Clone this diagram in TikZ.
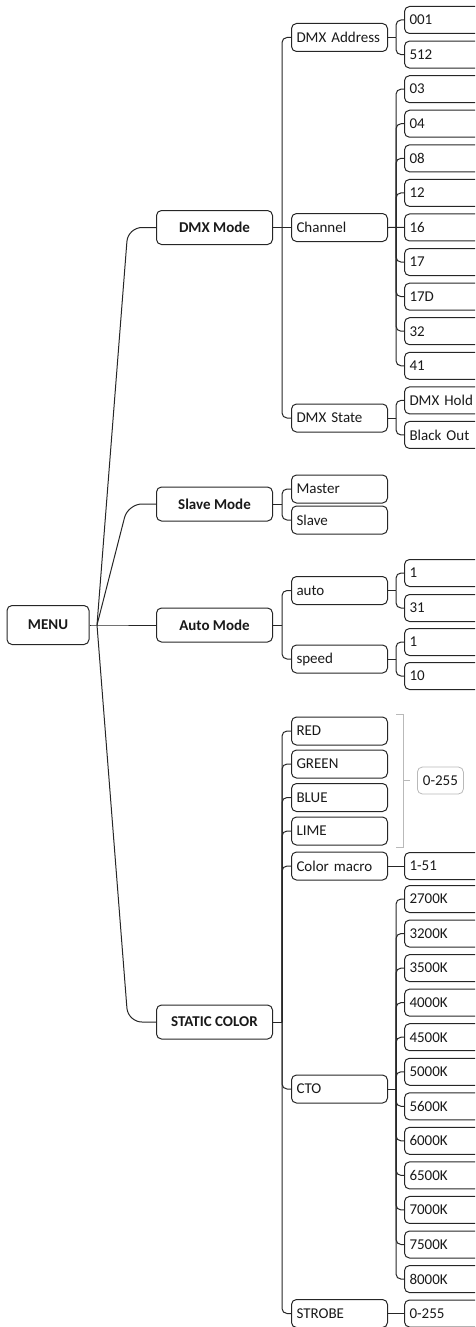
\documentclass[tikz,border=0pt]{standalone}
\usepackage{fontspec}
\setmainfont{Carlito}
\usepackage{tikz}

\tikzset{
  box/.style={draw=black!85, rounded corners=5pt, line width=1pt, text=black!90,
    font=\fontsize{15}{18}\selectfont},
  rootbox/.style={box, minimum width=82pt, minimum height=39pt,
    font=\fontsize{15}{18}\selectfont\bfseries},
  modebox/.style={box, minimum width=116pt, minimum height=34pt,
    font=\fontsize{15}{18}\selectfont\bfseries},
  itembox/.style={box, anchor=west, text width=86pt, inner xsep=5pt, align=left,
    minimum height=28pt},
  valbox/.style={box, anchor=west, text width=90pt, inner xsep=5pt, align=left,
    minimum height=27pt},
  link/.style={draw=black!85, line width=1pt, rounded corners=5pt},
  bracket/.style={draw=gray!55, line width=0.8pt},
}

\begin{document}
\begin{tikzpicture}[x=1pt, y=-1pt]
  % Page size and cut at the right edge
  \useasboundingbox (0,0) rectangle (475,1327);
  \clip (0,0) rectangle (475,1327);

  % Junction columns
  \coordinate (bend) at (128,0);
  \coordinate (jb) at (282,0);
  \coordinate (jc) at (396,0);

  % Root and modes
  \node[rootbox] (menu) at (48,625) {MENU};
  \node[modebox] (dmx) at (214.5,227.5) {DMX Mode};
  \node[modebox] (slave) at (214.5,504) {Slave Mode};
  \node[modebox] (auto) at (214.5,625) {Auto Mode};
  \node[modebox] (static) at (214.5,1022) {STATIC COLOR};

  % Second level
  \node[itembox] (addr) at (291,37.5) {DMX Address};
  \node[itembox] (chan) at (291,227.5) {Channel};
  \node[itembox] (state) at (291,418) {DMX State};
  \node[itembox] (master) at (291,489) {Master};
  \node[itembox] (slv) at (291,520) {Slave};
  \node[itembox] (autoi) at (291,590.5) {auto};
  \node[itembox] (speed) at (291,659) {speed};
  \node[itembox] (red) at (291,731) {RED};
  \node[itembox] (green) at (291,764) {GREEN};
  \node[itembox] (blue) at (291,797.5) {BLUE};
  \node[itembox] (lime) at (291,831) {LIME};
  \node[itembox] (macro) at (291,866) {Color macro};
  \node[itembox] (cto) at (291,1089) {CTO};
  \node[itembox] (strobe) at (291,1313.5) {STROBE};

  % Values
  \foreach \t [count=\i] in {001,512,03,04,08,12,16,17,17D,32,41,DMX Hold,Black Out}
    \node[valbox] (d\i) at (404,{20+34.58*(\i-1)}) {\t};
  \node[valbox] (a1) at (404,573) {1};
  \node[valbox] (a2) at (404,608) {31};
  \node[valbox] (s1) at (404,642) {1};
  \node[valbox] (s2) at (404,676) {10};
  \node[valbox] (cm) at (404,866) {1-51};
  \foreach \t [count=\i] in {2700K,3200K,3500K,4000K,4500K,5000K,5600K,6000K,6500K,7000K,7500K,8000K}
    \node[valbox] (k\i) at (404,{899+34.55*(\i-1)}) {\t};
  \node[valbox] (sb) at (404,1313.5) {0-255};

  % Menu to modes
  \coordinate (mj) at (97,625);
  \draw[link] (menu.east) -- (mj) -- (auto.west);
  \foreach \m in {dmx,slave,static}
    \draw[link, rounded corners=14pt] (mj) -- (\m.west -| bend) -- (\m.west);

  % Modes to second level
  \foreach \p in {slave,auto,static}
    \draw[link] (\p.east) -- (\p.east -| jb);
  \draw[link] (dmx.east) -- (chan.west);
  \foreach \p/\c in {dmx/addr,dmx/state,slave/master,slave/slv,auto/autoi,auto/speed,
      static/red,static/green,static/blue,static/lime,static/macro,static/cto,static/strobe}
    \draw[link] (\p.east -| jb) |- (\c.west);

  % Second level to values
  \foreach \p in {addr,state,autoi,speed,cto}
    \draw[link] (\p.east) -- (\p.east -| jc);
  \draw[link] (chan.east) -- (d7.west);
  \draw[link] (macro.east) -- (cm.west);
  \draw[link] (strobe.east) -- (sb.west);
  \foreach \p/\c in {addr/d1,addr/d2,chan/d3,chan/d4,chan/d5,chan/d6,chan/d8,chan/d9,
      chan/d10,chan/d11,state/d12,state/d13,autoi/a1,autoi/a2,speed/s1,speed/s2}
    \draw[link] (\p.east -| jc) |- (\c.west);
  \foreach \i in {1,...,12}
    \draw[link] (cto.east -| jc) |- (k\i.west);

  % Colour range bracket
  \draw[bracket] (396,714) -- (403,714) -- (403,847) -- (396,847);
  \coordinate (brk) at (403,780.5);
  \node[box, draw=gray!55, line width=0.8pt, minimum width=46pt, minimum height=27pt,
    anchor=west] (range) at (417,780.5) {0-255};
  \draw[bracket] (brk) -- ([xshift=-7pt]range.west);
\end{tikzpicture}
\end{document}
